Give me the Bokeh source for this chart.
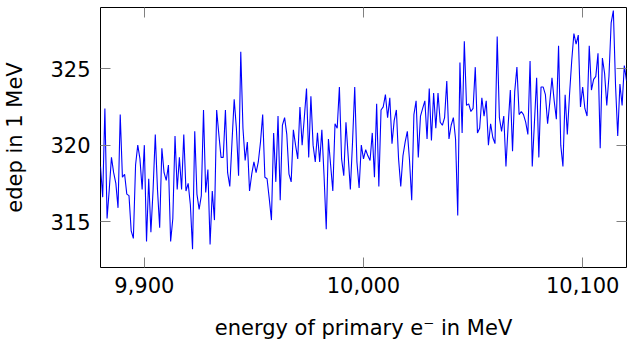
from bokeh.plotting import figure
from bokeh.models import LinearAxis, FixedTicker, NumeralTickFormatter, Range1d
from bokeh.embed import file_html
from bokeh.resources import INLINE
import numpy as np

# energy of primary electron (MeV), one sample per MeV
energy_start = 9880
energy_stop = 10120
energy = np.arange(energy_start, energy_stop + 1)

# energy deposition in 1 MeV bins
edep = [
    318.6, 316.6, 322.4, 315.2, 317.1, 319.2, 318.2, 317.5, 315.9, 322.0,
    317.9, 318.1, 316.8, 316.7, 314.4, 313.9, 318.7, 320.0, 319.1, 317.1,
    320.0, 313.7, 317.8, 314.3, 317.1, 320.7, 317.1, 314.6, 319.8, 318.2,
    317.7, 318.7, 313.7, 315.2, 320.6, 317.1, 319.2, 317.1, 320.7, 317.0,
    317.5, 316.1, 313.2, 320.9, 316.8, 315.8, 316.7, 322.3, 316.9, 318.4,
    313.5, 317.0, 315.1, 322.3, 320.7, 319.2, 319.2, 322.3, 318.2, 317.3,
    320.2, 323.0, 321.1, 318.0, 326.1, 321.1, 319.0, 320.2, 317.0, 318.1,
    318.9, 318.2, 318.9, 320.2, 322.0, 317.9, 317.8, 316.5, 315.1, 320.8,
    317.6, 321.9, 316.4, 321.3, 321.8, 320.7, 318.1, 317.6, 321.0, 320.0,
    319.1, 322.5, 320.0, 321.8, 323.7, 319.2, 323.2, 320.0, 318.9, 320.8,
    318.9, 321.0, 318.0, 314.5, 320.4, 318.7, 317.0, 321.4, 321.1, 323.8,
    319.1, 318.0, 321.5, 319.3, 317.1, 320.2, 323.8, 318.9, 317.2, 320.0,
    319.1, 319.7, 319.3, 319.0, 320.8, 317.9, 322.7, 317.3, 322.3, 322.5,
    323.3, 321.8, 323.1, 320.1, 321.6, 322.3, 319.1, 317.3, 319.3, 320.2,
    320.9, 319.0, 316.4, 322.0, 322.9, 319.2, 321.9, 322.4, 322.9, 320.4,
    323.7, 320.3, 323.4, 321.1, 323.4, 321.5, 321.3, 321.8, 324.2, 320.4,
    321.3, 321.8, 320.4, 315.4, 325.4, 320.8, 326.8, 322.6, 322.7, 322.2,
    322.4, 325.1, 320.8, 321.1, 323.1, 321.9, 322.9, 320.0, 321.4, 320.5,
    320.1, 327.1, 321.8, 320.9, 321.9, 318.6, 321.3, 323.6, 319.6, 323.5,
    325.1, 322.0, 322.2, 322.0, 321.5, 320.7, 325.5, 318.6, 321.5, 324.4,
    319.2, 323.8, 323.8, 323.3, 321.4, 322.8, 324.4, 322.9, 321.7, 326.5,
    320.0, 318.6, 323.3, 320.7, 323.3, 325.5, 327.3, 326.6, 327.2, 322.5,
    323.8, 322.4, 321.9, 326.5, 323.6, 324.3, 324.5, 326.0, 319.8, 325.7,
    324.7, 322.6, 324.5, 328.0, 328.8, 323.9, 320.6, 324.0, 322.6, 325.2,
    324.2,
]

x_ticks = [9900, 10000, 10100]
y_ticks = [315, 320, 325]
x_label = "energy of primary e\u207b in MeV"
y_label = "edep in 1 MeV"

FONT = "DejaVu Sans"
TICK_FS = "21px"
LABEL_FS = "21px"
TICK_COLOR = "#808080"

p = figure(
    width=627, height=342,
    output_backend="svg", toolbar_location=None,
    x_range=Range1d(9880, 10120), y_range=Range1d(312, 329),
    min_border_left=0, min_border_right=1, min_border_top=7, min_border_bottom=0,
)
p.background_fill_color = "white"
p.border_fill_color = "white"
p.outline_line_color = "black"
p.outline_line_width = 1
p.xgrid.visible = False
p.ygrid.visible = False

p.line(energy, edep[:len(energy)], line_color="#0000ff", line_width=1.1)

for ax in (p.xaxis[0], p.yaxis[0]):
    ax.axis_line_color = None
    ax.major_tick_in = 10
    ax.major_tick_out = 0
    ax.major_tick_line_color = TICK_COLOR
    ax.major_tick_line_width = 1
    ax.minor_tick_line_color = None
    ax.major_label_text_font = FONT
    ax.major_label_text_font_size = TICK_FS
    ax.major_label_text_color = "black"
    ax.axis_label_text_font = FONT
    ax.axis_label_text_font_size = LABEL_FS
    ax.axis_label_text_font_style = "normal"
    ax.axis_label_text_color = "black"

p.xaxis[0].ticker = FixedTicker(ticks=x_ticks)
p.xaxis[0].formatter = NumeralTickFormatter(format="0,0")
p.xaxis[0].axis_label = x_label
p.xaxis[0].major_label_standoff = 9
p.xaxis[0].axis_label_standoff = 20

p.yaxis[0].ticker = FixedTicker(ticks=y_ticks)
p.yaxis[0].axis_label = y_label
p.yaxis[0].major_label_standoff = 10
p.yaxis[0].axis_label_standoff = 20

# mirrored ticks on top and right (no labels)
top = LinearAxis(ticker=FixedTicker(ticks=x_ticks),
                 major_label_overrides={t: "" for t in x_ticks})
right = LinearAxis(ticker=FixedTicker(ticks=y_ticks),
                   major_label_overrides={t: "" for t in y_ticks})
for ax in (top, right):
    ax.axis_line_color = None
    ax.major_tick_in = 10
    ax.major_tick_out = 0
    ax.major_tick_line_color = TICK_COLOR
    ax.minor_tick_line_color = None
    ax.major_label_text_font_size = "1px"
    ax.major_label_standoff = 0
    ax.axis_label = None
p.add_layout(top, "above")
p.add_layout(right, "right")

open("out.html", "w").write(file_html(p, INLINE))
